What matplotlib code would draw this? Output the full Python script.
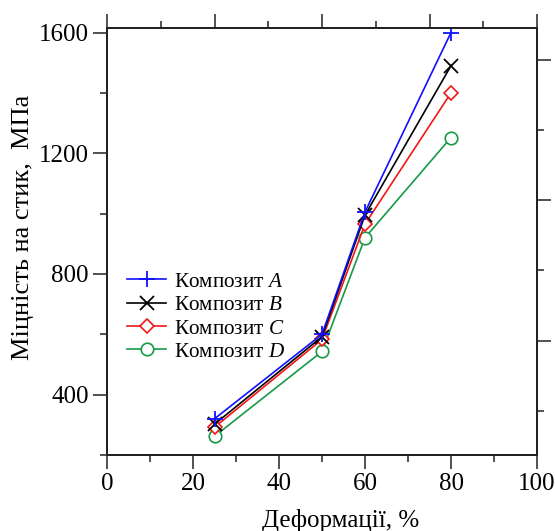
import matplotlib
matplotlib.use("Agg")
import matplotlib.pyplot as plt
from matplotlib.ticker import MultipleLocator, FixedLocator, NullFormatter

plt.rcParams['font.family'] = ['Liberation Serif', 'DejaVu Serif']
plt.rcParams['mathtext.fontset'] = 'custom'
plt.rcParams['mathtext.rm'] = 'Liberation Serif'
plt.rcParams['mathtext.it'] = 'Liberation Serif:italic'

# Data
deformation = [25, 50, 60, 80]
comp_A = [320, 600, 1005, 1600]
comp_B = [302, 592, 995, 1490]
comp_C = [292, 583, 965, 1400]
comp_D = [262, 543, 920, 1252]
labels = ['Композит $\\mathit{A}$', 'Композит $\\mathit{B}$',
          'Композит $\\mathit{C}$', 'Композит $\\mathit{D}$']

W, H = 555, 531
fig = plt.figure(figsize=(W / 100, H / 100), dpi=100)
L, R, T, B = 107, 537, 28, 455
ax = fig.add_axes([L / W, 1 - B / H, (R - L) / W, (B - T) / H])

lw = 1.2
ax.plot(deformation, comp_A, color='#1010ff', lw=lw, marker='+', ms=12, mew=1.3, label=labels[0], zorder=5)
ax.plot(deformation, comp_B, color='black', lw=lw, marker='x', ms=10, mew=1.3, label=labels[1], zorder=4)
ax.plot(deformation, comp_C, color='#f01818', lw=lw, marker='D', ms=7, mew=1.2, mfc='white', label=labels[2], zorder=3)
ax.plot(deformation, comp_D, color='#169a48', lw=lw, marker='o', ms=9, mew=1.2, mfc='white', label=labels[3], zorder=2)

ax.set_xlim(0, 100)
ax.set_ylim(200, 1615)
ax.xaxis.set_major_locator(MultipleLocator(20))
ax.xaxis.set_minor_locator(MultipleLocator(10))
ax.yaxis.set_major_locator(MultipleLocator(400))
ax.yaxis.set_minor_locator(MultipleLocator(200))
ax.tick_params(which='both', direction='out', width=1.1, colors='#222222', labelcolor='black')
ax.tick_params(which='major', length=10, labelsize=18, pad=3)
ax.tick_params(which='minor', length=5)
ax.tick_params(top=False, right=False)
for s in ax.spines.values():
    s.set_linewidth(1.3)
    s.set_color('#222222')

ax.set_xlabel('Деформації, %', fontsize=18)
ax.xaxis.set_label_coords((341 - L) / (R - L), -(521 - B) / (B - T), transform=ax.transAxes)
ax.xaxis.label.set_va('center')
ax.set_ylabel('Міцність на стик,  МПа', fontsize=19)
ax.yaxis.set_label_coords(-(L - 23) / (R - L), (B - 227) / (B - T), transform=ax.transAxes)
ax.yaxis.label.set_va('center')

# top auxiliary axis ticks
axt = ax.twiny()
axt.set_xlim(0, 100)
axt.xaxis.set_major_locator(MultipleLocator(25))
axt.xaxis.set_minor_locator(MultipleLocator(12.5))
axt.xaxis.set_major_formatter(NullFormatter())
axt.tick_params(which='both', direction='out', width=1.1, colors='#222222')
axt.tick_params(which='major', length=10)
axt.tick_params(which='minor', length=5)

# right auxiliary axis ticks
axr = ax.twinx()
axr.set_ylim(0.37, 6.45)
axr.yaxis.set_major_locator(FixedLocator([2, 4, 6]))
axr.yaxis.set_minor_locator(FixedLocator([1, 3, 5]))
axr.yaxis.set_major_formatter(NullFormatter())
axr.tick_params(which='both', direction='out', width=1.1, colors='#222222')
axr.tick_params(which='major', length=10)
axr.tick_params(which='minor', length=5)
for a in (axt, axr):
    for s in a.spines.values():
        s.set_linewidth(1.3)
        s.set_color('#222222')

leg = ax.legend(loc='upper left', bbox_to_anchor=((127 - L) / (R - L), (B - 272) / (B - T)),
                frameon=False, fontsize=15.2, handlelength=1.85, handletextpad=0.4,
                labelspacing=0.17, borderpad=0, borderaxespad=0)

fig.savefig('out.png', dpi=100)
